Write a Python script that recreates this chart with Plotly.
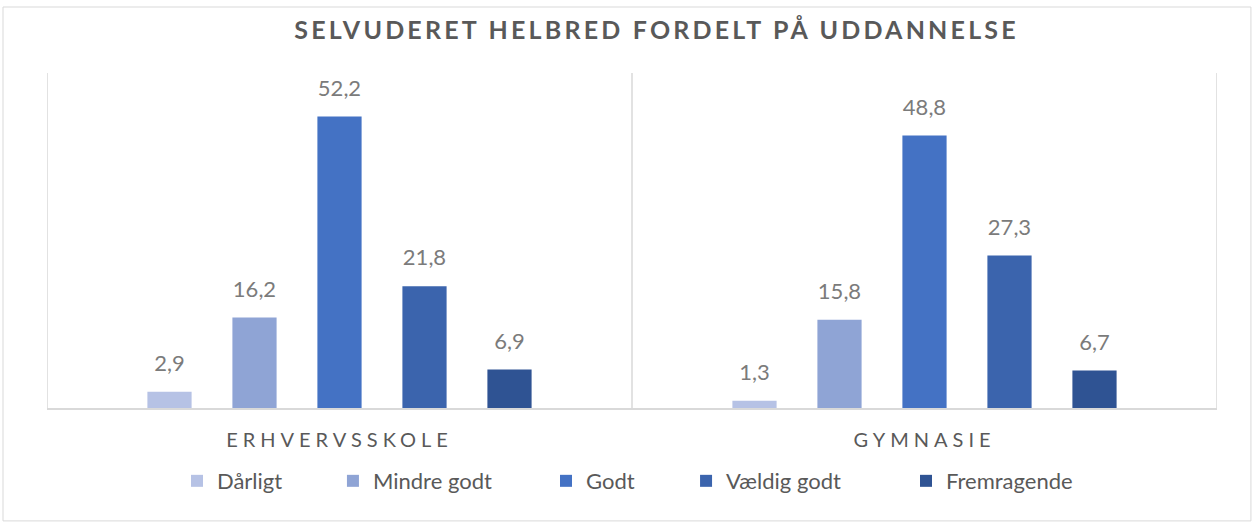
import plotly.graph_objects as go

categories = ["ERHVERVSSKOLE", "GYMNASIE"]
series_names = ["Dårligt", "Mindre godt", "Godt", "Vældig godt", "Fremragende"]
values_darligt = [2.9, 1.3]
values_mindre_godt = [16.2, 15.8]
values_godt = [52.2, 48.8]
values_vaeldig_godt = [21.8, 27.3]
values_fremragende = [6.9, 6.7]
colors = ["#b6c2e5", "#8fa4d5", "#4472c4", "#3b64ad", "#2f5393"]

all_values = [values_darligt, values_mindre_godt, values_godt, values_vaeldig_godt, values_fremragende]

FONT = "Lato"
GREY = "#595959"
LABEL_GREY = "#7b7b7b"

# legend entry anchors (paper x), one legend box per series to mimic Excel's spacing
legend_x = [0.1111, 0.2444, 0.4265, 0.5462, 0.7342]
legend_ids = ["legend", "legend2", "legend3", "legend4", "legend5"]

fig = go.Figure()
for i, (name, vals, col) in enumerate(zip(series_names, all_values, colors)):
    fig.add_trace(go.Bar(
        x=categories, y=vals, name=name, offsetgroup=str(i),
        marker=dict(color=col, line=dict(width=0)),
        hoverinfo="x+y+name", legend=legend_ids[i],
    ))
# value labels: same bars on a slightly shifted overlay axis, so labels sit a bit above the bars
for i, (name, vals) in enumerate(zip(series_names, all_values)):
    fig.add_trace(go.Bar(
        x=categories, y=vals, name=name, offsetgroup=str(i), yaxis="y2",
        marker=dict(color="rgba(0,0,0,0)", line=dict(width=0)),
        texttemplate="%{y:.1f}", textposition="outside",
        textfont=dict(family=FONT, size=22, color=LABEL_GREY),
        cliponaxis=False, showlegend=False, hoverinfo="skip",
    ))

shapes = []
for xv in [-0.5, 0.5, 1.5]:
    shapes.append(dict(type="line", xref="x", yref="paper", x0=xv, x1=xv, y0=0, y1=1,
                       line=dict(color="#d9d9d9", width=1.5), layer="below"))
shapes.append(dict(type="rect", xref="paper", yref="paper", x0=-0.0376, x1=1.029,
                   y0=-0.337, y1=1.197, line=dict(color="#d9d9d9", width=1), layer="below"))

legend_layouts = {}
for lid, lx in zip(legend_ids, legend_x):
    legend_layouts[lid] = dict(orientation="h", x=lx, xanchor="left", y=-0.218, yanchor="middle",
                               font=dict(family=FONT, size=22, color=GREY),
                               bgcolor="rgba(0,0,0,0)")

fig.update_layout(
    width=1254, height=524,
    margin=dict(l=47, r=37, t=73, b=116),
    paper_bgcolor="white", plot_bgcolor="white",
    separators=",.",
    barmode="group", bargap=0.2735, bargroupgap=0.48,
    title=dict(text='<b><span style="letter-spacing:3.2px">SELVUDERET HELBRED FORDELT PÅ UDDANNELSE</span></b>',
               x=0.521, xref="paper", xanchor="center", y=0.943, yanchor="middle",
               font=dict(family=FONT, size=25, color=GREY)),
    xaxis=dict(showline=True, linecolor="#d9d9d9", linewidth=2, ticks="",
               tickmode="array", tickvals=categories,
               ticktext=['<span style="letter-spacing:5px">%s</span>' % c for c in categories],
               tickfont=dict(family=FONT, size=20, color=GREY), showgrid=False,
               ticklabelstandoff=13,
               range=[-0.5, 1.5]),
    yaxis=dict(range=[0, 60], visible=False, showgrid=False),
    yaxis2=dict(range=[-2.3, 57.7], visible=False, showgrid=False, overlaying="y"),
    shapes=shapes,
    **legend_layouts,
)

fig.write_html("out.html", post_script="document.body.style.margin='0';",
               config={"displayModeBar": False})
